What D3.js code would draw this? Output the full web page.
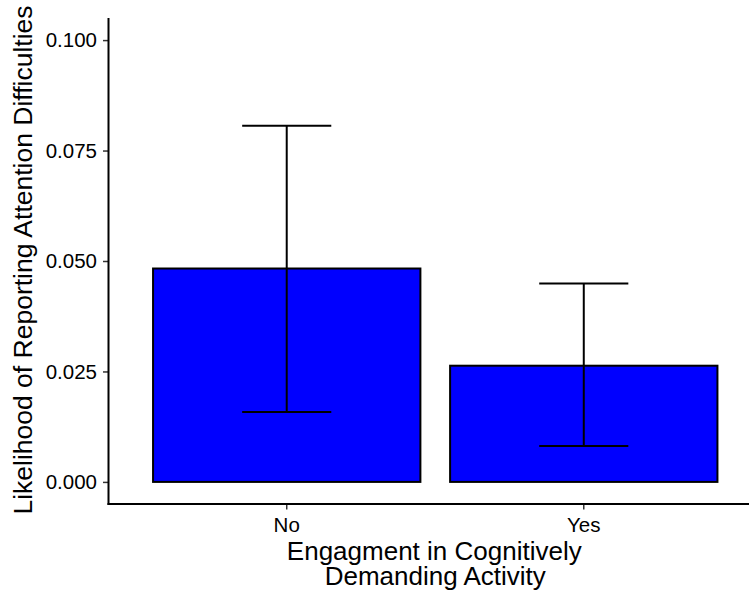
<!DOCTYPE html>
<html>
<head>
<meta charset="utf-8">
<script src="https://cdn.jsdelivr.net/npm/d3@7"></script>
<style>
  html, body { margin: 0; padding: 0; background: #fff; }
  svg { display: block; }
  text { font-family: "Liberation Sans", Arial, Helvetica, sans-serif; }
</style>
</head>
<body>
<svg id="chart" width="749" height="597"></svg>
<script>
// ---- data ----
const categories = ["No", "Yes"];
const means = [0.0483, 0.0263];
const lowerCI = [0.0158, 0.0081];
const upperCI = [0.0806, 0.0449];
const yTicks = [0.000, 0.025, 0.050, 0.075, 0.100];
const yTitle = "Likelihood of Reporting Attention Difficulties";
const xTitleLines = ["Engagment in Cognitively", "Demanding Activity"];

// ---- layout ----
const svg = d3.select("#chart");
const panel = { left: 108.5, right: 762, top: 18, bottom: 504 };

const x = d3.scaleBand()
  .domain(categories)
  .range([panel.left, panel.right])
  .paddingInner(0.1)
  .paddingOuter(0.15);
const step = x.step();

const y = d3.scaleLinear()
  .domain([-0.005, 0.105])
  .range([panel.bottom, panel.top]);

const data = categories.map((c, i) => ({ c, m: means[i], lo: lowerCI[i], hi: upperCI[i] }));

// bars
svg.append("g").selectAll("rect").data(data).join("rect")
  .attr("x", d => x(d.c))
  .attr("width", x.bandwidth())
  .attr("y", d => y(d.m))
  .attr("height", d => y(0) - y(d.m))
  .attr("fill", "#0000FF")
  .attr("stroke", "#000")
  .attr("stroke-width", 2);

// error bars
const eb = svg.append("g").attr("stroke", "#000").attr("stroke-width", 2).attr("fill", "none");
data.forEach(d => {
  const cx = x(d.c) + x.bandwidth() / 2;
  const hw = step * 0.15;
  eb.append("line").attr("x1", cx).attr("x2", cx).attr("y1", y(d.hi)).attr("y2", y(d.lo));
  eb.append("line").attr("x1", cx - hw).attr("x2", cx + hw).attr("y1", y(d.hi)).attr("y2", y(d.hi));
  eb.append("line").attr("x1", cx - hw).attr("x2", cx + hw).attr("y1", y(d.lo)).attr("y2", y(d.lo));
});

// y axis
const yAxis = svg.append("g")
  .attr("transform", `translate(${panel.left},0)`)
  .call(d3.axisLeft(y).tickValues(yTicks).tickFormat(d3.format(".3f")).tickSize(5.5).tickPadding(6));
yAxis.select(".domain").remove();
yAxis.selectAll(".tick line").attr("stroke", "#333").attr("stroke-width", 1.5);
yAxis.selectAll(".tick text").attr("fill", "#000").style("font-size", "20.5px");
svg.append("line")
  .attr("x1", panel.left).attr("x2", panel.left)
  .attr("y1", panel.top).attr("y2", panel.bottom + 1)
  .attr("stroke", "#000").attr("stroke-width", 2);

// x axis
const xAxis = svg.append("g")
  .attr("transform", `translate(0,${panel.bottom})`)
  .call(d3.axisBottom(x).tickSize(5.5).tickPadding(8));
xAxis.select(".domain").remove();
xAxis.selectAll(".tick line").attr("stroke", "#333").attr("stroke-width", 1.5);
xAxis.selectAll(".tick text").attr("fill", "#000").style("font-size", "20.5px");
svg.append("line")
  .attr("x1", panel.left - 1).attr("x2", panel.right)
  .attr("y1", panel.bottom).attr("y2", panel.bottom)
  .attr("stroke", "#000").attr("stroke-width", 2);

// titles
svg.append("text")
  .attr("transform", `translate(32,${(panel.top + panel.bottom) / 2 - 1}) rotate(-90)`)
  .attr("text-anchor", "middle")
  .style("font-size", "26.5px")
  .attr("fill", "#000")
  .text(yTitle);

const xc = (panel.left + panel.right) / 2;
const xt = svg.append("text")
  .attr("text-anchor", "middle")
  .style("font-size", "26px")
  .attr("fill", "#000");
xt.append("tspan").attr("x", xc - 1).attr("y", 560).text(xTitleLines[0]);
xt.append("tspan").attr("x", xc).attr("y", 585).text(xTitleLines[1]);
</script>
</body>
</html>
